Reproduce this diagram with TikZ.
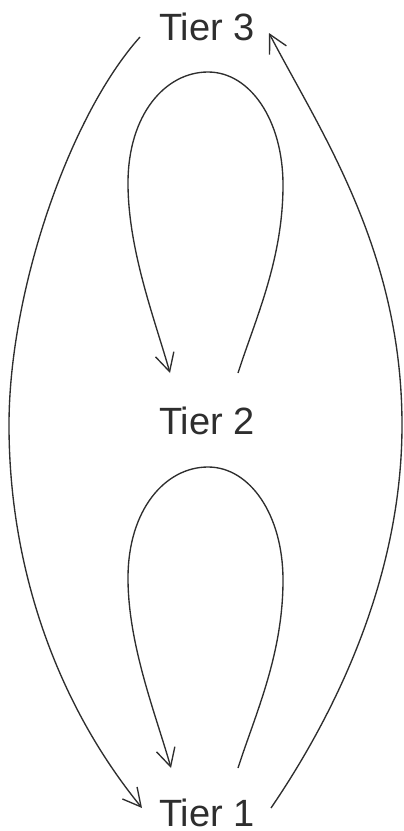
\documentclass[tikz,border=0pt]{standalone}
\usepackage{fontspec}
\setmainfont{Liberation Sans}
\usetikzlibrary{arrows.meta}
\definecolor{ink}{HTML}{2E2E2E}
\begin{document}
\begin{tikzpicture}[x=1pt,y=-1pt,
  tier/.style={anchor=base,inner sep=0pt,text=ink,
    font=\fontsize{38}{40}\selectfont},
  link/.style={draw=ink,line width=1.35pt,
    -{Straight Barb[length=18pt,width=19pt]}}]
\useasboundingbox (0,0) rectangle (404,831);

% tiers
\node[tier] (t3) at (207,40)  {Tier 3};
\node[tier] (t2) at (207,434) {Tier 2};
\node[tier] (t1) at (207,826) {Tier 1};

% ends of the connectors beside the labels
\coordinate (l3) at ([shift={(-67,-3)}]t3.base);
\coordinate (l1) at ([shift={(-65,-18)}]t1.base);
\coordinate (r1) at ([shift={(64,-18)}]t1.base);
\coordinate (r3) at ([shift={(62,-7)}]t3.base);
\coordinate (u-out) at ([shift={(31,-61)}]t2.base);
\coordinate (u-in)  at ([shift={(-37,-61)}]t2.base);
\coordinate (d-out) at ([shift={(31,-58)}]t1.base);
\coordinate (d-in)  at ([shift={(-36,-58)}]t1.base);

% Tier 3 down to Tier 1 on the left
\draw[link] (l3) .. controls (70,115) and (9,290) .. (9,425)
                 .. controls (9,570) and (58,705) .. (l1);

% Tier 1 up to Tier 3 on the right
\draw[link] (r1) .. controls (333,717) and (402,580) .. (402,425)
                 .. controls (402,250) and (320,131) .. (r3);

% loop above Tier 2
\draw[link] (u-out) .. controls (255,320) and (283,260) .. (283,185)
                    .. controls (283,120) and (250,72) .. (208,72)
                    .. controls (165,72) and (128,115) .. (128,183)
                    .. controls (128,250) and (155,320) .. (u-in);

% loop above Tier 1
\draw[link] (d-out) .. controls (255,715) and (283,655) .. (283,580)
                    .. controls (283,515) and (250,467) .. (208,467)
                    .. controls (165,467) and (128,510) .. (128,578)
                    .. controls (128,645) and (156,715) .. (d-in);
\end{tikzpicture}
\end{document}
